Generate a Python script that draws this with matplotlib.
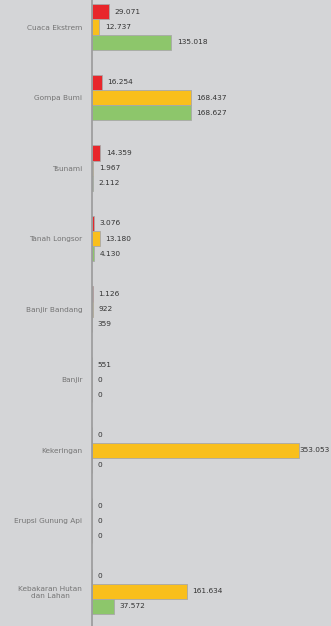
import matplotlib.pyplot as plt
import numpy as np

# data
categories = ["Cuaca Ekstrem", "Gompa Bumi", "Tsunami", "Tanah Longsor", "Banjir Bandang",
              "Banjir", "Kekeringan", "Erupsi Gunung Api", "Kebakaran Hutan\ndan Lahan"]
red_vals = [29071, 16254, 14359, 3076, 1126, 551, 0, 0, 0]
yellow_vals = [12737, 168437, 1967, 13180, 922, 0, 353053, 0, 161634]
green_vals = [135018, 168627, 2112, 4130, 359, 0, 0, 0, 37572]

bg = "#d4d5d7"
colors = ["#e8262b", "#f9bf1c", "#8dc66b"]
font = ["Liberation Sans Narrow", "DejaVu Sans"]

fig = plt.figure(figsize=(3.31, 6.26), dpi=100, facecolor=bg)
ax = fig.add_axes([92 / 331, 0, 1 - 92 / 331, 1], facecolor=bg)

xmax = 407630
y = np.arange(len(categories))
h = 0.213
series = [red_vals, yellow_vals, green_vals]
for k, (vals, c) in enumerate(zip(series, colors)):
    pos = y + (k - 1) * h
    ax.barh(pos, vals, height=h, color=c, edgecolor="#a8a8a8", linewidth=0.6)
    for p, v in zip(pos, vals):
        lab = f"{v:,}".replace(",", ".")
        off = 4 if v < 0.8 * xmax else 0.5
        ax.annotate(lab, (v, p), xytext=(off, 0), textcoords="offset points",
                    ha="left", va="center", fontsize=5.3, color="#333333",
                    family=font, annotation_clip=False)

ax.set_xlim(0, xmax)
ax.set_ylim(8.496, -0.383)
for s in ["top", "right", "bottom"]:
    ax.spines[s].set_visible(False)
ax.spines["left"].set_color("#9a9a9a")
ax.spines["left"].set_linewidth(1.2)
ax.set_xticks([])
ax.set_yticks(y)
ax.set_yticklabels(categories, fontsize=5.3, color="#747474", family=font,
                   multialignment="center")
ax.tick_params(axis="y", length=0, pad=7)

fig.savefig("out.png", dpi=100, facecolor=bg)
